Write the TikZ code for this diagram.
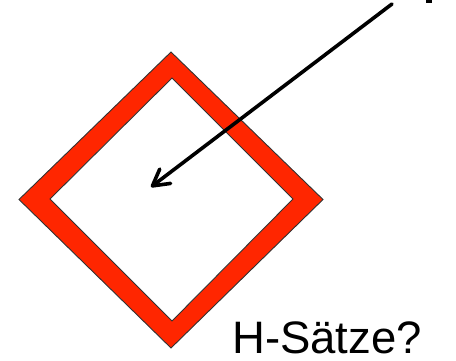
\documentclass[tikz,border=0pt]{standalone}
\usepackage{fontspec}
\setmainfont{Liberation Sans}
\usetikzlibrary{arrows.meta}
\definecolor{hazred}{RGB}{255,38,0}
\definecolor{rimgray}{RGB}{50,50,50}
\tikzset{
  rim/.style={draw=rimgray, line width=0.9pt, line join=miter},
  pointer/.style={line width=3.6pt, line cap=round, -{Straight Barb[round,length=16pt,width=18pt]}},
  label/.style={anchor=base west, inner sep=0pt, font=\fontsize{45.5}{45.5}\selectfont}
}
\begin{document}
\begin{tikzpicture}[x=1pt,y=-1pt]
\useasboundingbox (0,0) rectangle (456,361);
\filldraw[rim, fill=hazred] (171,52) -- (323,199.5) -- (171,348) -- (19,199.5) -- cycle;
\filldraw[rim, fill=white] (172,78) -- (293,199) -- (172,321) -- (50,199) -- cycle;
\coordinate (src) at (392,4);
\coordinate (tip) at (151,187);
\draw[pointer] (src) -- (tip);
\fill (426,0) rectangle (432,3);
\node[label] (lbl) at (232,353) {H-Sätze?};
\end{tikzpicture}
\end{document}
